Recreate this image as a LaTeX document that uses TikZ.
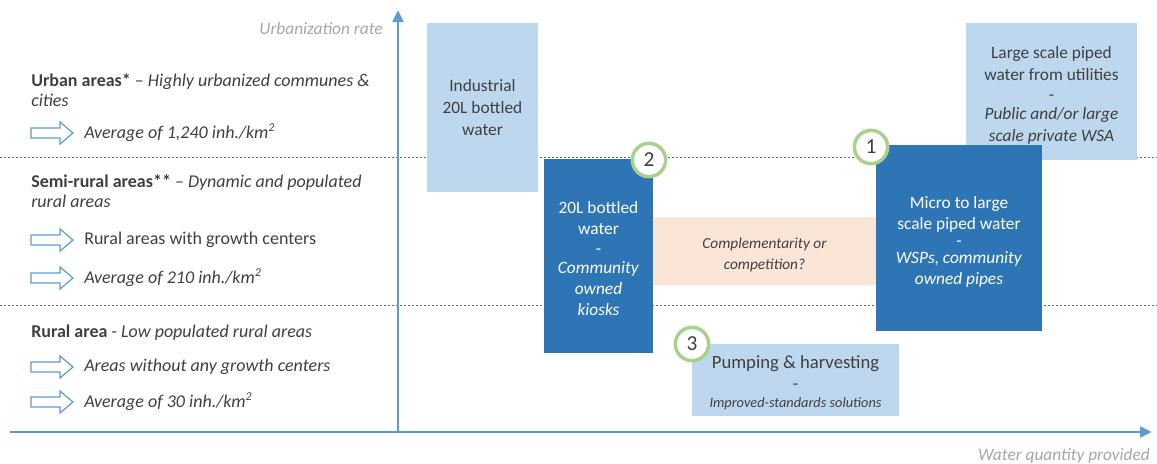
\documentclass[tikz,border=0pt]{standalone}
\usepackage{fontspec}
\setmainfont{Carlito}
\usetikzlibrary{arrows.meta,fit}

\definecolor{darkblue}{HTML}{2E75B6}
\definecolor{lightblue}{HTML}{BDD7EE}
\definecolor{peach}{HTML}{FBE5D6}
\definecolor{ringgreen}{HTML}{A9D18E}
\definecolor{axisblue}{HTML}{5B9BD5}
\definecolor{txtgray}{HTML}{404040}
\definecolor{lblgray}{HTML}{A6A6A6}

\newcommand{\sqkm}{km\textsuperscript{\fontsize{9}{9}\selectfont 2}}

\tikzset{
	hollowarrow/.pic={
			\path [pic actions] (0,-5) -- (29,-5) -- (29,-11) -- (42,0)
			-- (29,11) -- (29,5) -- (0,5) -- cycle;
	},
}

\begin{document}
\begin{tikzpicture}[
		x=0.75pt, y=-0.75pt,
		font=\fontsize{13}{16.5}\selectfont,
		axis/.style={
			-{Triangle[length=9pt,width=8pt]},
			line width=2.2pt,
			axisblue,
		},
		level/.style={
			black!60,
			thin,
			dash pattern=on 1.8pt off 1.2pt,
		},
		axislabel/.style={
			text=lblgray,
			inner sep=0pt,
			font=\fontsize{13}{16}\selectfont\itshape,
		},
		head/.style={
			anchor=west,
			align=left,
			text=txtgray,
			inner sep=0pt,
			font=\fontsize{13.5}{15.5}\selectfont,
		},
		item/.style={
			anchor=west,
			text=txtgray,
			inner sep=0pt,
			font=\fontsize{13.5}{15.5}\selectfont,
		},
		pointer/.style={
			draw=axisblue,
			fill=white,
			line width=0.9pt,
		},
		lbox/.style={
			fill=lightblue,
			inner sep=0pt,
		},
		dbox/.style={
			fill=darkblue,
			inner sep=0pt,
		},
		pbox/.style={
			fill=peach,
			inner sep=0pt,
		},
		boxtext/.style={
			align=center,
			text=txtgray,
			inner sep=0pt,
		},
		darktext/.style={
			boxtext,
			text=white,
			font=\fontsize{13}{15.8}\selectfont,
		},
		ring/.style={
			circle,
			draw=ringgreen,
			fill=white,
			line width=2.6pt,
			minimum size=25pt,
			inner sep=0pt,
			text=txtgray,
			font=\fontsize{16}{16}\selectfont,
		},
	]

	\useasboundingbox (0,0) rectangle (1157,464);

	% levels and axes
	\coordinate (l1w) at (0,157);
	\coordinate (l1e) at (1157,157);
	\coordinate (l2w) at (0,305);
	\coordinate (l2e) at (1157,305);
	\draw [level] (l1w) -- (l1e);
	\draw [level] (l2w) -- (l2e);

	\coordinate (O) at (398,432);
	\coordinate (ytop) at (398,10);
	\coordinate (xleft) at (10,432);
	\coordinate (xright) at (1152,432);
	\draw [axis] (O) -- (ytop);
	\draw [axis] (xleft) -- (xright);

	\node [axislabel, anchor=east] (ylab) at (383,29) {Urbanization rate};
	\node [axislabel, anchor=east] (xlab) at (1150,456) {Water quantity provided};

	% area types
	\node [head] (urban) at (31,90) {\textbf{Urban areas*} – \textit{Highly urbanized communes \&}\\\textit{cities}};
	\pic [pointer] at (31,133) {hollowarrow};
	\node [item] (urbanavg) at (84,133) {\textit{Average of 1,240 inh./\sqkm}};

	\node [head] (semi) at (31,191) {\textbf{Semi-rural areas**} – \textit{Dynamic and populated}\\\textit{rural areas}};
	\pic [pointer] at (31,240) {hollowarrow};
	\node [item] (semigrowth) at (84,240) {Rural areas with growth centers};
	\pic [pointer] at (31,278) {hollowarrow};
	\node [item] (semiavg) at (84,278) {\textit{Average of 210 inh./\sqkm}};

	\node [head] (rural) at (31,333) {\textbf{Rural area} - \textit{Low populated rural areas}};
	\pic [pointer] at (31,367) {hollowarrow};
	\node [item] (ruralgrowth) at (84,367) {\textit{Areas without any growth centers}};
	\pic [pointer] at (31,402) {hollowarrow};
	\node [item] (ruralavg) at (84,402) {\textit{Average of 30 inh./\sqkm}};

	% supply options
	\node [lbox, fit={(427,23) (538,192)}] (industrial) {};
	\node [boxtext] (industrialtxt) at (industrial.center) {Industrial\\20L bottled\\water};

	\node [pbox, fit={(653,217) (876,285)}] (compet) {};
	\node [boxtext, font=\fontsize{11.5}{15.5}\selectfont\itshape] (competxt) at ([yshift=-3pt]compet.center) {Complementarity or\\competition?};

	\node [dbox, fit={(544,159) (653,353)}] (kiosk) {};
	\node [darktext] (kiosktxt) at ([yshift=-2pt]kiosk.center) {20L bottled\\water\\[-1pt]-\\[-1pt]\textit{Community}\\\textit{owned}\\\textit{kiosks}};

	\node [lbox, fit={(966,23) (1137,160)}] (utility) {};
	\node [boxtext] (utilitytxt) at ([yshift=-3pt]utility.center) {Large scale piped\\water from utilities\\[-2pt]-\\[-2pt]\textit{Public and/or large}\\\textit{scale private WSA}};

	\node [dbox, fit={(876,145) (1042,331)}] (piped) {};
	\node [darktext] (pipedtxt) at ([yshift=-3pt]piped.center) {Micro to large\\scale piped water\\[-3pt]-\\[-3pt]\textit{WSPs, community}\\\textit{owned pipes}};

	\node [lbox, fit={(692,344) (899,416)}] (pumping) {};
	\node [boxtext] (pumpingtxt) at ([yshift=-2pt]pumping.center) {{\fontsize{14}{16}\selectfont Pumping \& harvesting}\\[-1pt]-\\[-3pt]{\fontsize{10.75}{12}\selectfont\itshape Improved-standards solutions}};

	\node [ring] (n1) at (871,147) {1};
	\node [ring] (n2) at (649,160) {2};
	\node [ring] (n3) at (692,344) {3};

\end{tikzpicture}
\end{document}
